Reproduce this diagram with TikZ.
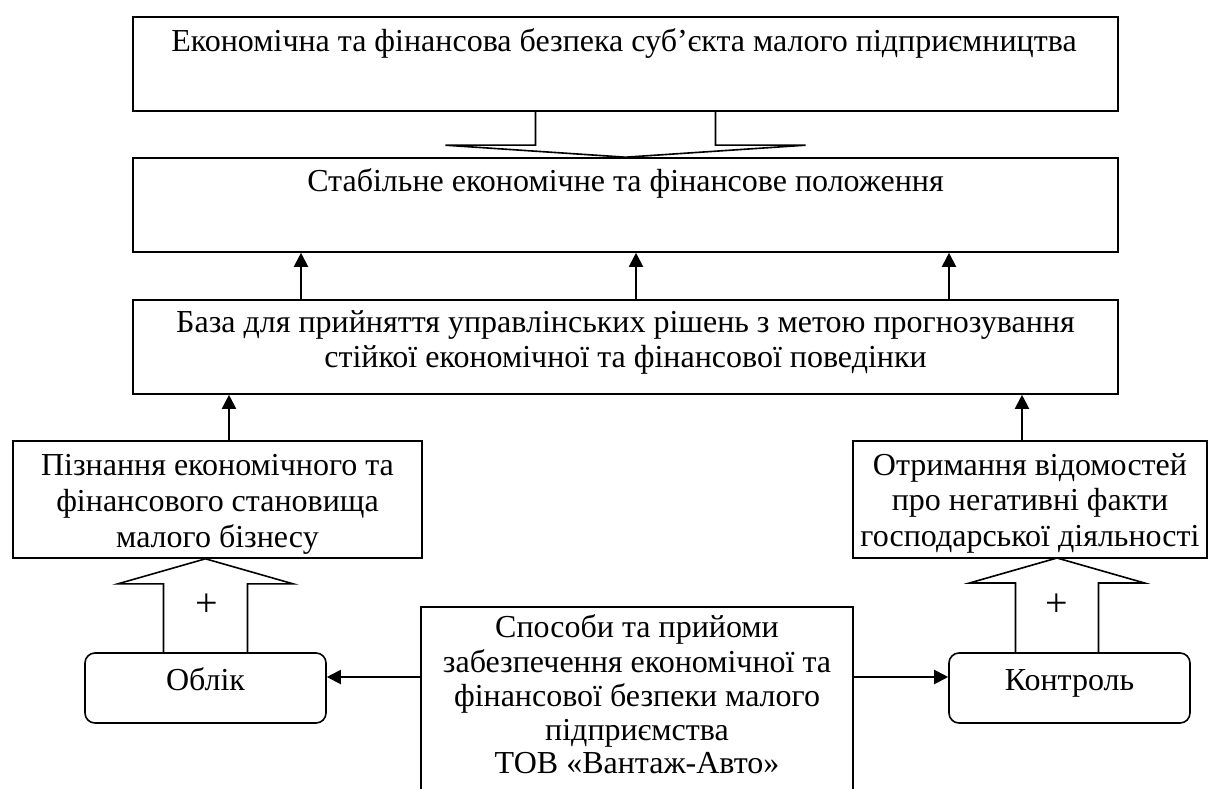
\documentclass[tikz,border=0pt]{standalone}
\usepackage{fontspec}
\setmainfont{Liberation Serif}
\usetikzlibrary{arrows.meta,calc}
\begin{document}
\begin{tikzpicture}[x=1pt,y=-1pt,
  box/.style={draw,line width=1.6pt,inner sep=0pt},
  rbox/.style={draw,line width=1.6pt,inner sep=0pt,rounded corners=10pt},
  txt/.style={anchor=base,inner sep=0pt,font=\fontsize{32}{36}\selectfont},
  plus/.style={inner sep=0pt,font=\fontsize{40}{40}\selectfont},
  arr/.style={line width=2pt,-{Triangle[length=14pt,width=14pt]}},
  hollow/.style={line width=1.6pt,line join=miter}]
\useasboundingbox (0,0) rectangle (1208,789);
\clip (0,0) rectangle (1208,789);
% boxes
\node[box,minimum width=985,minimum height=94] (b1) at (625.5,64) {};
\node[box,minimum width=985,minimum height=94] (b2) at (625.5,205) {};
\node[box,minimum width=985,minimum height=94] (b3) at (625.5,347) {};
\node[box,minimum width=409,minimum height=117] (b4) at (217.5,499.5) {};
\node[box,minimum width=354,minimum height=117] (b5) at (1030,499.5) {};
\node[box,minimum width=432,minimum height=200] (sp) at (637,707) {};
\node[rbox,minimum width=241,minimum height=70] (ob) at (205.5,688) {};
\node[rbox,minimum width=241,minimum height=70] (ko) at (1069.5,688) {};
% texts
\node[txt] (t1) at (624,52) {Економічна та фінансова безпека суб’єкта малого підприємництва};
\node[txt] (t2) at (625.5,192) {Стабільне економічне та фінансове положення};
\node[txt] (t3a) at (625.5,332) {База для прийняття управлінських рішень з метою прогнозування};
\node[txt] (t3b) at (625.5,367) {стійкої економічної та фінансової поведінки};
\node[txt] (t4a) at (217.5,475) {Пізнання економічного та};
\node[txt] (t4b) at (217.5,511) {фінансового становища};
\node[txt] (t4c) at (217.5,547) {малого бізнесу};
\node[txt] (t5a) at (1030,475) {Отримання відомостей};
\node[txt] (t5b) at (1030,510) {про негативні факти};
\node[txt] (t5c) at (1030,546) {господарської діяльності};
\node[txt] (s1) at (637,637) {Способи та прийоми};
\node[txt] (s2) at (637,672) {забезпечення економічної та};
\node[txt] (s3) at (637,706) {фінансової безпеки малого};
\node[txt] (s4) at (637,740) {підприємства};
\node[txt] (s5) at (637,773) {ТОВ «Вантаж-Авто»};
\node[txt] (to) at (205.5,690) {Облік};
\node[txt] (tk) at (1069.5,690) {Контроль};
\node[plus] (p1) at (207,605) {+};
\node[plus] (p2) at (1057,605) {+};
% hollow arrows
\draw[hollow] ([xshift=-90]b1.south) |- ([xshift=-180,yshift=12]b2.north) -- (b2.north)
  -- ([xshift=180,yshift=12]b2.north) -| ([xshift=90]b1.south);
\coordinate (tl) at (ob.north |- b4.south);
\draw[hollow] ([xshift=-42]ob.north) |- ([xshift=-87.5,yshift=-25]tl) -- (tl)
  -- ([xshift=87.5,yshift=-25]tl) -| ([xshift=42]ob.north);
\coordinate (tr) at (1057,558);
\draw[hollow] ([xshift=-41.5]ko.north -| tr) |- ([xshift=-87.5,yshift=-25]tr) -- (tr)
  -- ([xshift=87.5,yshift=-25]tr) -| ([xshift=41.5]ko.north -| tr);
% arrows
\coordinate (xa) at (301,0);
\coordinate (xb) at (636,0);
\coordinate (xc) at (949,0);
\coordinate (xd) at (229,0);
\coordinate (xe) at (1022,0);
\coordinate (ya) at (0,677);
\draw[arr] (b3.north -| xa) -- (b2.south -| xa);
\draw[arr] (b3.north -| xb) -- (b2.south -| xb);
\draw[arr] (b3.north -| xc) -- (b2.south -| xc);
\draw[arr] (b4.north -| xd) -- (b3.south -| xd);
\draw[arr] (b5.north -| xe) -- (b3.south -| xe);
\draw[arr] (sp.west |- ya) -- (ob.east |- ya);
\draw[arr] (sp.east |- ya) -- (ko.west |- ya);
\end{tikzpicture}
\end{document}
